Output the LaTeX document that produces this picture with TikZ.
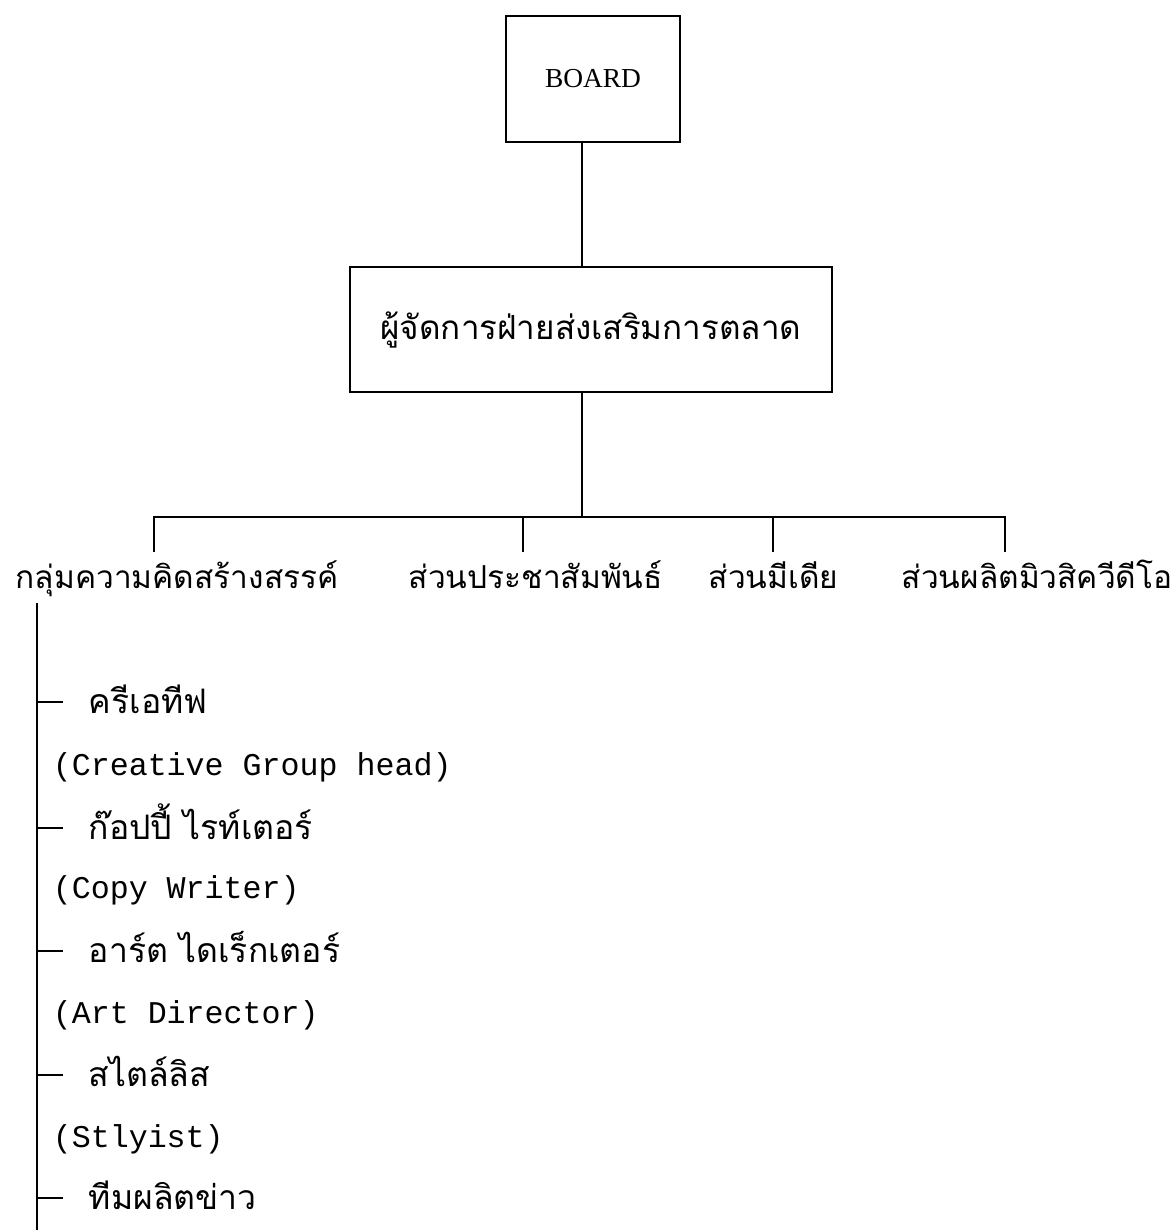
\documentclass[tikz,border=0pt]{standalone}
\usepackage{fontspec}
\setmainfont{Liberation Serif}
\newfontfamily\thaifont[Script=Thai]{Loma}
\newfontfamily\typefont{Liberation Mono}

\begin{document}
\begin{tikzpicture}[x=0.025cm, y=-0.025cm, line width=1.2pt,
	box/.style={draw, inner sep=0pt},
	dept/.style={font=\thaifont\fontsize{22.5}{27}\selectfont, anchor=base west, inner sep=0pt},
	item/.style={font=\thaifont\fontsize{24}{28}\selectfont, anchor=west, inner sep=0pt, text height=0.55cm, text depth=0pt},
	eng/.style={font=\typefont\fontsize{22.5}{26}\selectfont, anchor=base west, inner sep=0pt}]
	\useasboundingbox[fill=white] (0,0) rectangle (1171,1230);

	\node[box, minimum width=4.35cm, minimum height=3.15cm, font=\fontsize{19.5}{22}\selectfont] (board) at (593,79) {BOARD};
	\node[box, minimum width=12.05cm, minimum height=3.13cm, font=\thaifont\fontsize{23.6}{28}\selectfont] (mgr) at (591,329.5) {ผู้จัดการฝ่ายส่งเสริมการตลาด};

	\node[dept] (creative) at (15,588) {กลุ่มความคิดสร้างสรรค์};
	\node[dept] (pr) at (408,588) {ส่วนประชาสัมพันธ์};
	\node[dept] (media) at (708,588) {ส่วนมีเดีย};
	\node[dept] (music) at (901,588) {ส่วนผลิตมิวสิควีดีโอ};

	\coordinate (spine) at (582,517);
	\coordinate (d1) at (154,552);
	\coordinate (d2) at (523,552);
	\coordinate (d3) at (773,552);
	\coordinate (d4) at (1005,552);

	\draw (board.south -| spine) -- (mgr.north -| spine);
	\draw (mgr.south -| spine) -- (spine);
	\draw (d1) |- (spine);
	\draw (d4) |- (spine);
	\draw (d2) -- (d2 |- spine);
	\draw (d3) -- (d3 |- spine);

	% creative group members
	\coordinate (ltop) at (37,603);
	\coordinate (lbot) at (37,1230);
	\node[item] (k1) at (88,702) {ครีเอทีฟ};
	\node[eng] (e1) at (52,775) {(Creative Group head)};
	\node[item] (k2) at (88,828) {ก๊อปปี้ ไรท์เตอร์};
	\node[eng] (e2) at (52,898) {(Copy Writer)};
	\node[item] (k3) at (88,951) {อาร์ต ไดเร็กเตอร์};
	\node[eng] (e3) at (52,1023) {(Art Director)};
	\node[item] (k4) at (88,1075) {สไตล์ลิส};
	\node[eng] (e4) at (52,1147) {(Stlyist)};
	\node[item] (k5) at (88,1198) {ทีมผลิตข่าว};

	\draw (ltop) -- (lbot);
	\draw (k1.west -| ltop) -- ([xshift=-0.625cm]k1.west);
	\draw (k2.west -| ltop) -- ([xshift=-0.625cm]k2.west);
	\draw (k3.west -| ltop) -- ([xshift=-0.625cm]k3.west);
	\draw (k4.west -| ltop) -- ([xshift=-0.625cm]k4.west);
	\draw (k5.west -| ltop) -- ([xshift=-0.625cm]k5.west);
\end{tikzpicture}
\end{document}
